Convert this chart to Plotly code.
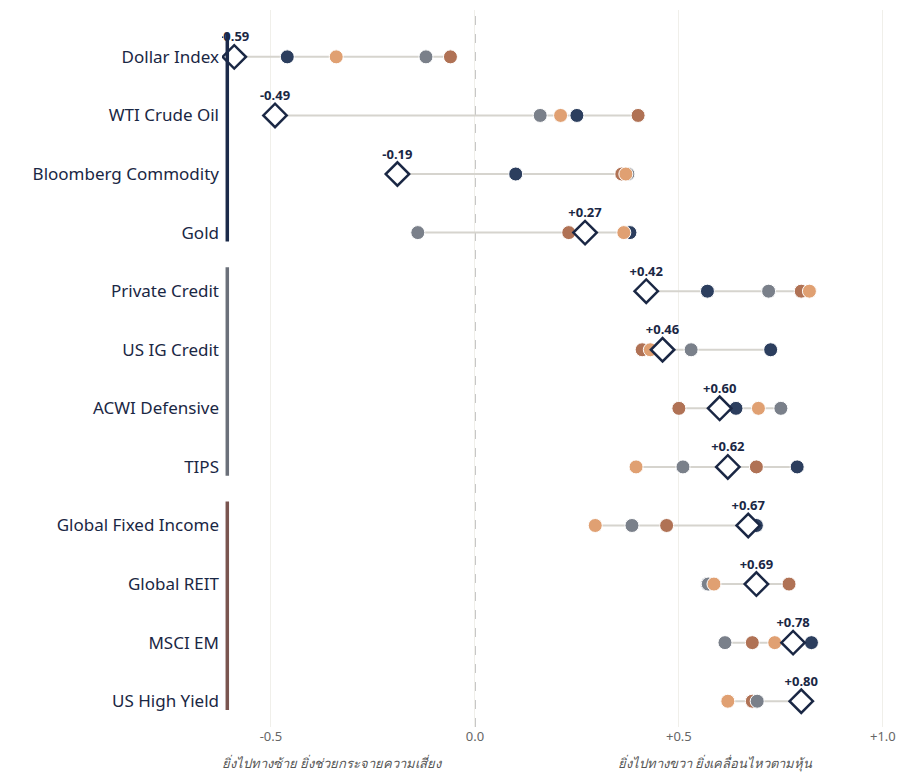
import plotly.graph_objects as go

assets = ["Dollar Index", "WTI Crude Oil", "Bloomberg Commodity", "Gold",
          "Private Credit", "US IG Credit", "ACWI Defensive", "TIPS",
          "Global Fixed Income", "Global REIT", "MSCI EM", "US High Yield"]

# four period correlations (dots) and the current value (diamond)
navy_vals   = [-0.46, 0.25, 0.10, 0.38, 0.57, 0.725, 0.64, 0.79, 0.69, 0.57, 0.825, 0.69]
brown_vals  = [-0.06, 0.40, 0.36, 0.23, 0.80, 0.41, 0.50, 0.69, 0.47, 0.77, 0.68, 0.68]
gray_vals   = [-0.12, 0.16, 0.375, -0.14, 0.72, 0.53, 0.75, 0.51, 0.385, 0.572, 0.613, 0.692]
orange_vals = [-0.34, 0.21, 0.37, 0.365, 0.82, 0.43, 0.695, 0.395, 0.295, 0.586, 0.735, 0.62]
current_vals = [-0.59, -0.49, -0.19, 0.27, 0.42, 0.46, 0.60, 0.62, 0.67, 0.69, 0.78, 0.80]

groups = [(0, 3, "#1b2a4a"), (4, 7, "#6b707a"), (8, 11, "#7a5550")]

x_ticks = [-0.5, 0.0, 0.5, 1.0]
x_tick_text = ["-0.5", "0.0", "+0.5", "+1.0"]

rows = list(range(len(assets)))

fig = go.Figure()

# connecting range lines
lx, ly = [], []
for i in rows:
    vals = [navy_vals[i], brown_vals[i], gray_vals[i], orange_vals[i], current_vals[i]]
    lx += [min(vals), max(vals), None]
    ly += [i, i, None]
fig.add_trace(go.Scatter(x=lx, y=ly, mode="lines", line=dict(color="#d6d4ce", width=2),
                         hoverinfo="skip", showlegend=False))

series = [("Series 1", navy_vals, "#2c3e5e"),
          ("Series 2", brown_vals, "#b07255"),
          ("Series 3", gray_vals, "#7a808a"),
          ("Series 4", orange_vals, "#e0a072")]
for name, vals, col in series:
    fig.add_trace(go.Scatter(x=vals, y=rows, mode="markers", name=name,
                             marker=dict(size=14, color=col, line=dict(color="white", width=1)),
                             showlegend=False))

labels = [("%+.2f" % v) for v in current_vals]
fig.add_trace(go.Scatter(x=current_vals, y=rows, mode="markers+text", name="Current",
                         text=labels, textposition="top center",
                         textfont=dict(family="Noto Sans", size=13, color="#1a2744", weight="bold"),
                         marker=dict(symbol="diamond", size=18, color="white",
                                     line=dict(color="#1a2744", width=2.5)),
                         showlegend=False))

shapes = []
# zero reference line
shapes.append(dict(type="line", xref="x", yref="paper", x0=0, x1=0, y0=0, y1=1,
                   line=dict(color="#aaaaaa", width=1.5, dash="dash"), layer="below"))
for a, b, col in groups:
    shapes.append(dict(type="line", xref="x", yref="y", x0=-0.607, x1=-0.607,
                       y0=a - 0.41, y1=b + 0.15, line=dict(color=col, width=3.5)))

annotations = [
    dict(x=-0.35, y=-0.035, xref="x", yref="paper", yanchor="top",
         text="ยิ่งไปทางซ้าย ยิ่งช่วยกระจายความเสี่ยง", showarrow=False,
         font=dict(size=13, color="#555555", style="italic")),
    dict(x=0.59, y=-0.035, xref="x", yref="paper", yanchor="top",
         text="ยิ่งไปทางขวา ยิ่งเคลื่อนไหวตามหุ้น", showarrow=False,
         font=dict(size=13, color="#555555", style="italic")),
]

fig.update_layout(
    width=912, height=783,
    margin=dict(l=222, r=21, t=10, b=56),
    paper_bgcolor="white", plot_bgcolor="white",
    font=dict(family="Noto Sans"),
    shapes=shapes, annotations=annotations,
    xaxis=dict(range=[-0.62, 1.02], tickvals=x_ticks, ticktext=x_tick_text,
               showgrid=True, gridcolor="#f0efea", gridwidth=1, zeroline=False,
               showline=False, ticks="", tickfont=dict(size=13, color="#666666")),
    yaxis=dict(range=[11.44, -0.8], tickvals=rows, ticktext=assets,
               showgrid=False, zeroline=False, showline=False, ticks="",
               tickfont=dict(size=17, color="#1a2744"), ticklabelstandoff=2),
)

fig.write_html("out.html")
